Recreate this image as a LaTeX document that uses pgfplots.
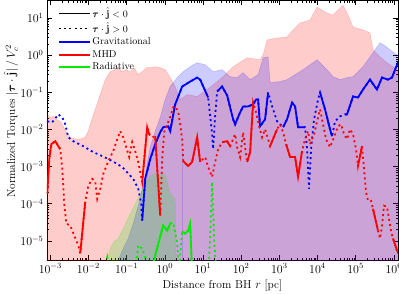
\documentclass[border=0pt]{standalone}
\usepackage{pgfplots}
\pgfplotsset{compat=1.18}
\usepackage{pgfplotstable}
\usepackage{bm}
\definecolor{cblue}{RGB}{0,0,255}
\definecolor{cred}{RGB}{255,0,0}
\definecolor{cgreen}{RGB}{0,235,0}
\pgfplotsset{/pgfplots/table/logxy/.style={x expr={pow(10,\thisrow{lx})},y expr={pow(10,\thisrow{ly})}}}
% ---- data: log10(r)  log10(torque) ----
\pgfplotstableread[row sep=\\]{lx ly\\
-3.12 -6\\ -3.12 -1.594\\ -3.079 -1.594\\ -3.000 -1.674\\ -2.921 -1.647\\ -2.843 -1.727\\ -2.738 -1.781\\ -2.686 -1.861\\ -2.581 -2.075\\ -2.476 -2.209\\ -2.346 -2.262\\ -2.215 -2.262\\ -2.084 -2.209\\ -2.005 -2.048\\ -1.953 -1.861\\ -1.822 -1.460\\ -1.691 -1.059\\ -1.560 -0.658\\ -1.429 -0.444\\ -1.298 -0.390\\ -1.220 -0.337\\ -1.115 -0.444\\ -1.010 -0.390\\ -0.906 -0.444\\ -0.801 -0.337\\ -0.696 -0.524\\ -0.592 -0.444\\ -0.487 -0.337\\ -0.382 -0.337\\ -0.251 -0.310\\ -0.120 -0.337\\ 0.010 -0.390\\ 0.141 -0.604\\ 0.272 -0.845\\ 0.403 -1.193\\ 0.586 -1.059\\ 0.848 -1.112\\ 1.110 -0.925\\ 1.372 -0.711\\ 1.529 -0.578\\ 1.791 -0.310\\ 2.157 -0.070\\ 2.497 -0.123\\ 2.576 0.011\\ 2.681 0.412\\ 2.942 0.465\\ 3.204 0.492\\ 3.361 0.679\\ 3.545 0.866\\ 3.806 0.947\\ 3.990 1.294\\ 4.120 1.214\\ 4.251 1.134\\ 4.408 1.080\\ 4.539 1.214\\ 4.670 1.348\\ 4.801 1.080\\ 4.932 0.759\\ 5.194 0.679\\ 5.377 0.599\\ 5.455 0.144\\ 5.639 -0.043\\ 5.822 -0.203\\ 6.084 -0.390\\ 6.15 -0.444\\ 6.15 -6\\
}\pinkarea
\pgfplotstableread[row sep=\\]{lx ly\\
-1.30 -6\\ -1.220 -5.524\\ -1.089 -5.203\\ -0.958 -4.936\\ -0.827 -4.535\\ -0.644 -3.866\\ -0.513 -3.198\\ -0.382 -2.476\\ -0.251 -2.048\\ -0.120 -1.674\\ 0.010 -1.193\\ 0.141 -0.845\\ 0.325 -0.604\\ 0.482 -0.444\\ 0.665 -0.310\\ 0.848 -0.203\\ 1.058 -0.257\\ 1.267 -0.444\\ 1.503 -0.390\\ 1.712 -0.578\\ 1.895 -0.604\\ 2.052 -0.471\\ 2.236 -0.658\\ 2.445 -0.524\\ 2.576 -0.070\\ 2.707 -0.043\\ 2.759 -0.738\\ 3.021 -0.711\\ 3.204 -0.658\\ 3.545 -0.444\\ 3.806 -0.257\\ 3.990 -0.123\\ 4.120 -0.257\\ 4.251 -0.390\\ 4.408 -0.578\\ 4.592 -0.658\\ 4.775 -0.604\\ 4.932 -0.578\\ 5.063 -0.444\\ 5.194 -0.310\\ 5.325 -0.123\\ 5.455 0.064\\ 5.639 0.332\\ 5.770 0.251\\ 5.901 0.144\\ 6.084 0.011\\ 6.15 -0.043\\ 6.15 -6\\
}\bluearea
\pgfplotstableread[row sep=\\]{lx ly\\
-1.560 -6\\ -1.508 -5.524\\ -1.429 -5.203\\ -1.325 -5.016\\ -1.220 -4.936\\ -1.063 -4.615\\ -0.906 -4.267\\ -0.775 -4.000\\ -0.644 -3.733\\ -0.513 -3.465\\ -0.382 -3.251\\ -0.251 -3.198\\ -0.120 -3.198\\ 0.010 -3.225\\ 0.063 -3.412\\ 0.115 -3.652\\ 0.194 -3.786\\ 0.272 -3.866\\ 0.298 -5.524\\ 0.31 -6\\
}\greenarea
\pgfplotstableread[row sep=\\]{lx ly\\ 0.455 -6\\ 0.455 -2.6\\}\bvline
% Gravitational
\pgfplotstableread[row sep=\\]{lx ly\\
-3.079 -1.781\\ -2.948 -1.807\\ -2.791 -1.594\\ -2.686 -1.674\\ -2.607 -1.861\\ -2.529 -2.209\\ -2.398 -2.316\\ -2.136 -2.449\\ -1.874 -2.610\\ -1.639 -2.717\\ -1.377 -2.850\\ -1.115 -3.011\\ -0.827 -3.332\\ -0.696 -3.599\\ -0.618 -4.000\\ -0.592 -4.455\\ -0.513 -3.332\\ -0.382 -2.797\\ -0.251 -2.396\\ -0.120 -2.075\\ -0.042 -1.941\\ 0.089 -1.914\\ 0.141 -2.048\\ 0.272 -1.326\\ 0.455 -0.845\\ 0.665 -0.711\\ 0.848 -0.604\\ 0.927 -0.658\\ 1.136 -1.139\\ 1.241 -2.128\\ 1.267 -2.529\\ 1.319 -1.647\\ 1.372 -0.979\\ 1.503 -0.845\\ 1.634 -1.086\\ 1.791 -1.727\\ 1.843 -1.861\\ 1.974 -1.540\\ 2.052 -1.380\\ 2.183 -1.380\\ 2.314 -1.326\\ 2.393 -1.193\\ 2.445 -1.193\\ 2.497 -1.914\\ 2.628 -1.727\\ 2.707 -1.005\\ 2.812 -1.380\\ 2.942 -1.781\\ 3.099 -1.941\\ 3.204 -1.727\\ 3.335 -1.273\\ 3.414 -1.380\\ 3.492 -1.941\\ 3.675 -1.941\\ 3.728 -2.529\\ 3.780 -3.599\\ 3.833 -2.529\\ 3.911 -1.727\\ 4.016 -1.193\\ 4.068 -1.005\\ 4.199 -1.460\\ 4.330 -1.995\\ 4.382 -2.182\\ 4.461 -1.781\\ 4.592 -1.647\\ 4.723 -1.594\\ 4.775 -1.594\\ 4.932 -1.112\\ 5.063 -1.139\\ 5.194 -0.925\\ 5.377 -0.658\\ 5.560 -0.925\\ 5.691 -0.604\\ 5.848 -0.658\\ 5.953 -0.604\\ 6.084 -0.257\\ 6.136 -0.150\\
}\gravall
\pgfplotstableread[row sep=\\]{lx ly\\
-0.592 -4.455\\ -0.513 -3.332\\ -0.382 -2.797\\ -0.251 -2.396\\ -0.120 -2.075\\ -0.042 -1.941\\ 0.089 -1.914\\ 0.141 -2.048\\ 0.272 -1.326\\ 0.455 -0.845\\ 0.665 -0.711\\ 0.848 -0.604\\ 0.927 -0.658\\ 1.136 -1.139\\
}\gravA
\pgfplotstableread[row sep=\\]{lx ly\\
1.372 -0.979\\ 1.503 -0.845\\ 1.634 -1.086\\ 1.791 -1.727\\ 1.843 -1.861\\ 1.974 -1.540\\ 2.052 -1.380\\ 2.183 -1.380\\ 2.314 -1.326\\ 2.393 -1.193\\ 2.445 -1.193\\ 2.497 -1.914\\ 2.628 -1.727\\ 2.707 -1.005\\
}\gravB
\pgfplotstableread[row sep=\\]{lx ly\\
3.099 -1.941\\ 3.204 -1.727\\ 3.335 -1.273\\ 3.414 -1.380\\ 3.492 -1.941\\ 3.675 -1.941\\
}\gravC
\pgfplotstableread[row sep=\\]{lx ly\\
4.068 -1.005\\ 4.199 -1.460\\ 4.330 -1.995\\ 4.382 -2.182\\
}\gravD
\pgfplotstableread[row sep=\\]{lx ly\\
4.723 -1.594\\ 4.775 -1.594\\ 4.932 -1.112\\ 5.063 -1.139\\ 5.194 -0.925\\ 5.377 -0.658\\ 5.560 -0.925\\ 5.691 -0.604\\ 5.848 -0.658\\ 5.953 -0.604\\ 6.084 -0.257\\ 6.136 -0.150\\
}\gravE
% MHD
\pgfplotstableread[row sep=\\]{lx ly\\
-3.079 -3.733\\ -3.026 -2.797\\ -2.974 -2.396\\ -2.869 -2.316\\ -2.791 -2.449\\ -2.738 -2.529\\ -2.686 -3.064\\ -2.634 -4.000\\ -2.581 -4.535\\ -2.476 -4.588\\ -2.372 -4.856\\ -2.267 -5.123\\ -2.215 -5.337\\ -2.084 -3.947\\ -2.005 -3.519\\ -1.901 -3.332\\ -1.822 -3.412\\ -1.770 -3.866\\ -1.691 -3.599\\ -1.613 -3.198\\ -1.508 -2.930\\ -1.429 -2.743\\ -1.351 -2.583\\ -1.272 -2.342\\ -1.168 -2.048\\ -1.089 -2.209\\ -1.010 -2.476\\ -0.932 -2.743\\ -0.853 -2.342\\ -0.775 -2.583\\ -0.696 -2.877\\ -0.592 -3.412\\ -0.513 -2.529\\ -0.461 -1.941\\ -0.408 -2.128\\ -0.330 -2.209\\ -0.251 -2.182\\ -0.120 -4.321\\ -0.068 -2.797\\ -0.016 -2.075\\ 0.063 -1.861\\ 0.141 -1.674\\ 0.220 -1.406\\ 0.272 -1.380\\ 0.351 -1.513\\ 0.403 -1.861\\ 0.455 -2.262\\ 0.482 -2.850\\ 0.613 -2.984\\ 0.717 -2.877\\ 0.848 -2.209\\ 0.927 -2.877\\ 1.058 -2.743\\ 1.136 -3.011\\ 1.241 -3.278\\ 1.319 -2.877\\ 1.398 -2.529\\ 1.503 -2.342\\ 1.634 -2.316\\ 1.712 -2.449\\ 1.843 -2.128\\ 1.895 -2.476\\ 1.974 -2.743\\ 2.052 -2.075\\ 2.157 -2.877\\ 2.236 -2.610\\ 2.314 -1.273\\ 2.393 -1.540\\ 2.471 -1.914\\ 2.550 -2.209\\ 2.628 -1.995\\ 2.707 -2.262\\ 2.759 -2.449\\ 2.942 -1.995\\ 3.021 -1.861\\ 3.099 -2.075\\ 3.178 -2.396\\ 3.283 -2.743\\ 3.414 -2.743\\ 3.492 -3.278\\ 3.597 -2.583\\ 3.675 -2.262\\ 3.754 -2.048\\ 3.806 -2.396\\ 3.911 -2.128\\ 4.016 -1.674\\ 4.068 -1.460\\ 4.147 -1.861\\ 4.225 -2.262\\ 4.330 -2.476\\ 4.435 -2.209\\ 4.539 -1.914\\ 4.618 -1.861\\ 4.696 -2.128\\ 4.775 -2.262\\ 4.853 -1.995\\ 4.932 -2.128\\ 5.010 -2.529\\ 5.063 -2.984\\ 5.168 -2.449\\ 5.220 -3.064\\ 5.272 -3.679\\ 5.325 -3.920\\ 5.403 -3.920\\ 5.455 -4.134\\ 5.586 -4.722\\ 5.639 -4.936\\ 5.691 -4.615\\ 5.743 -4.053\\ 5.822 -4.080\\ 5.874 -4.401\\ 5.927 -4.722\\ 5.979 -4.936\\ 6.084 -5.257\\ 6.136 -5.364\\
}\mhdall
\pgfplotstableread[row sep=\\]{lx ly\\ -3.079 -3.733\\ -3.026 -2.797\\ -2.974 -2.396\\ -2.869 -2.316\\ -2.791 -2.449\\ -2.738 -2.529\\}\mhdA
\pgfplotstableread[row sep=\\]{lx ly\\ -2.215 -5.337\\ -2.084 -3.947\\}\mhdB
\pgfplotstableread[row sep=\\]{lx ly\\ -0.592 -3.412\\ -0.513 -2.529\\ -0.461 -1.941\\ -0.408 -2.128\\}\mhdC
\pgfplotstableread[row sep=\\]{lx ly\\ -0.251 -2.182\\ -0.120 -4.321\\}\mhdD
\pgfplotstableread[row sep=\\]{lx ly\\ 0.482 -2.850\\ 0.613 -2.984\\ 0.717 -2.877\\ 0.848 -2.209\\ 0.927 -2.877\\}\mhdE
\pgfplotstableread[row sep=\\]{lx ly\\ 1.503 -2.342\\ 1.634 -2.316\\ 1.712 -2.449\\}\mhdF
\pgfplotstableread[row sep=\\]{lx ly\\ 2.157 -2.877\\ 2.236 -2.610\\ 2.314 -1.273\\}\mhdG
\pgfplotstableread[row sep=\\]{lx ly\\ 2.759 -2.449\\ 2.942 -1.995\\}\mhdH
\pgfplotstableread[row sep=\\]{lx ly\\ 3.178 -2.396\\ 3.283 -2.743\\ 3.414 -2.743\\ 3.492 -3.278\\ 3.597 -2.583\\}\mhdI
\pgfplotstableread[row sep=\\]{lx ly\\ 5.063 -2.984\\ 5.168 -2.449\\}\mhdJ
\pgfplotstableread[row sep=\\]{lx ly\\ 5.455 -4.134\\ 5.586 -4.722\\}\mhdK
\pgfplotstableread[row sep=\\]{lx ly\\ 5.979 -4.936\\ 6.084 -5.257\\ 6.136 -5.364\\}\mhdL
% Radiative
\pgfplotstableread[row sep=\\]{lx ly\\
-1.586 -5.872\\ -1.508 -5.444\\ -1.429 -5.872\\ -0.775 -5.872\\ -0.696 -5.123\\ -0.592 -5.203\\ -0.487 -5.524\\ -0.408 -5.872\\ -0.356 -5.872\\ -0.251 -5.390\\ -0.042 -4.588\\ 0.063 -4.722\\ 0.141 -4.535\\ 0.220 -4.508\\ 0.272 -4.749\\ 0.325 -5.070\\ 0.377 -5.738\\ 0.429 -5.070\\ 0.455 -4.749\\ 0.534 -4.802\\ 0.613 -4.722\\ 0.665 -4.535\\ 0.717 -5.872\\ 1.136 -5.872\\ 1.188 -4.936\\ 1.241 -3.412\\ 1.293 -4.936\\ 1.346 -5.872\\
}\radall
\pgfplotstableread[row sep=\\]{lx ly\\ -0.356 -5.872\\ -0.251 -5.390\\ -0.042 -4.588\\ 0.063 -4.722\\ 0.141 -4.535\\}\radA
\pgfplotstableread[row sep=\\]{lx ly\\ 0.455 -4.749\\ 0.534 -4.802\\ 0.613 -4.722\\ 0.665 -4.535\\ 0.717 -5.872\\}\radB
\begin{document}
\begin{tikzpicture}
\begin{axis}[name=ax, scale only axis, width=351bp, height=260bp,
  xmode=log, ymode=log, xmin=8.2e-4, xmax=1.29e6, ymin=3e-6, ymax=30,
  xtick={1e-3,1e-2,1e-1,1,1e1,1e2,1e3,1e4,1e5,1e6},
  ytick={1e-5,1e-4,1e-3,1e-2,1e-1,1,1e1},
  tick align=inside, major tick length=5bp, minor tick length=2.5bp,
  every tick/.style={black, line width=0.5pt},
  axis line style={line width=0.6pt},
  tick label style={font=\fontsize{12}{14}\selectfont},
  label style={font=\fontsize{11.5}{14}\selectfont},
  xlabel={Distance from BH $r$ [pc]},
  ylabel={Normalized Torques $|\bm{\tau}\cdot\hat{\mathbf{j}}|\,/\,V_c^2$},
  ylabel style={at={(axis description cs:-0.1026,0.535)}, anchor=center},
  legend cell align=left,
  legend image code/.code={\draw[#1] (0bp,0bp) -- (31bp,0bp);},
  legend style={draw=none, fill=none, at={(0,1)}, anchor=north west, xshift=10bp, yshift=-5bp,
    font=\fontsize{10}{12}\selectfont, row sep=1.2pt, inner sep=1bp, nodes={inner sep=1.4bp}},
  solidln/.style={line width=1.8pt},
  dotln/.style={line width=1.8pt, dash pattern=on 2pt off 3.2pt},
]
\addplot[forget plot, fill=cred, draw=cred, opacity=0.2, line width=0.5pt] table[logxy] {\pinkarea};
\addplot[forget plot, fill=cblue, draw=cblue, opacity=0.2, line width=0.5pt] table[logxy] {\bluearea};
\addplot[forget plot, fill=cgreen, draw=cgreen, opacity=0.2, line width=0.5pt] table[logxy] {\greenarea};
\addplot[forget plot, draw=cblue, opacity=0.15, line width=0.6pt] table[logxy] {\bvline};
% gravitational
\addplot[forget plot, cblue, dotln] table[logxy] {\gravall};
\addplot[forget plot, cblue, solidln] table[logxy] {\gravA};
\addplot[forget plot, cblue, solidln] table[logxy] {\gravB};
\addplot[forget plot, cblue, solidln] table[logxy] {\gravC};
\addplot[forget plot, cblue, solidln] table[logxy] {\gravD};
\addplot[forget plot, cblue, solidln] table[logxy] {\gravE};
% MHD
\addplot[forget plot, cred, dotln] table[logxy] {\mhdall};
\addplot[forget plot, cred, solidln] table[logxy] {\mhdA};
\addplot[forget plot, cred, solidln] table[logxy] {\mhdB};
\addplot[forget plot, cred, solidln] table[logxy] {\mhdC};
\addplot[forget plot, cred, solidln] table[logxy] {\mhdD};
\addplot[forget plot, cred, solidln] table[logxy] {\mhdE};
\addplot[forget plot, cred, solidln] table[logxy] {\mhdF};
\addplot[forget plot, cred, solidln] table[logxy] {\mhdG};
\addplot[forget plot, cred, solidln] table[logxy] {\mhdH};
\addplot[forget plot, cred, solidln] table[logxy] {\mhdI};
\addplot[forget plot, cred, solidln] table[logxy] {\mhdJ};
\addplot[forget plot, cred, solidln] table[logxy] {\mhdK};
\addplot[forget plot, cred, solidln] table[logxy] {\mhdL};
% radiative
\addplot[forget plot, cgreen, dotln] table[logxy] {\radall};
\addplot[forget plot, cgreen, solidln] table[logxy] {\radA};
\addplot[forget plot, cgreen, solidln] table[logxy] {\radB};
% legend
\addlegendimage{black, solidln}
\addlegendentry{$\bm{\tau}\cdot\hat{\mathbf{j}}<0$}
\addlegendimage{black, dotln}
\addlegendentry{$\bm{\tau}\cdot\hat{\mathbf{j}}>0$}
\addlegendimage{cblue, solidln}
\addlegendentry{Gravitational}
\addlegendimage{cred, solidln}
\addlegendentry{MHD}
\addlegendimage{cgreen, solidln}
\addlegendentry{Radiative}
\end{axis}
\pgfresetboundingbox
\path[use as bounding box] ([xshift=-47bp,yshift=-33.7bp]ax.south west) rectangle ([xshift=1bp,yshift=0.3bp]ax.north east);
\end{tikzpicture}
\end{document}
